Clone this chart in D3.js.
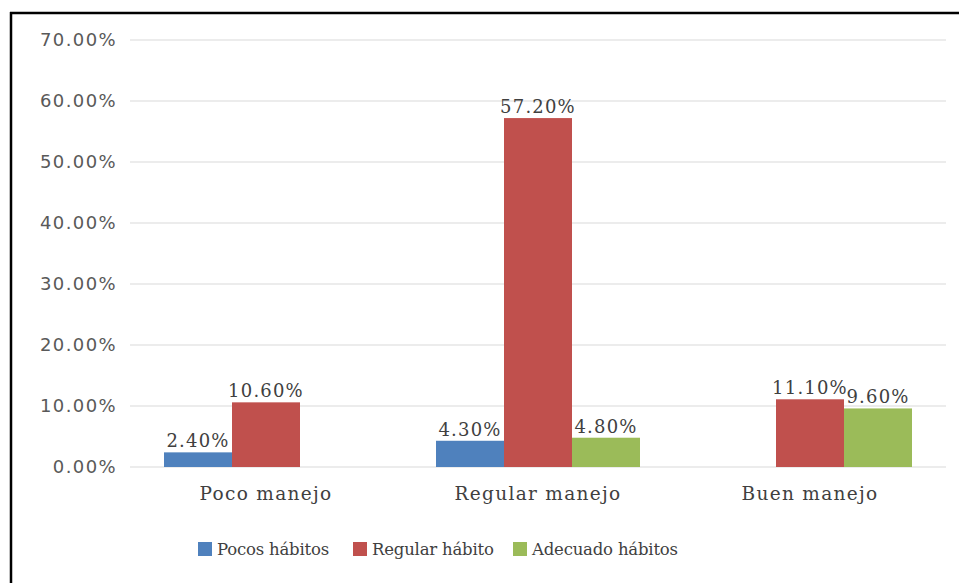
<!DOCTYPE html>
<html>
<head>
<meta charset="utf-8">
<script src="https://cdn.jsdelivr.net/npm/d3@7"></script>
<style>
  body { margin: 0; background: #fff; }
</style>
</head>
<body>
<div id="chart"></div>
<script>
// Data
var categories = ["Poco manejo", "Regular manejo", "Buen manejo"];
var seriesNames = ["Pocos hábitos", "Regular hábito", "Adecuado hábitos"];
var pocosHabitos = [2.4, 4.3, null];
var regularHabito = [10.6, 57.2, 11.1];
var adecuadoHabitos = [null, 4.8, 9.6];
var yTicks = [0, 10, 20, 30, 40, 50, 60, 70];

var seriesValues = [pocosHabitos, regularHabito, adecuadoHabitos];
var colors = ["#4F81BD", "#C0504D", "#9BBB59"];

var width = 959, height = 583;
var margin = { top: 40, right: 13, bottom: 116, left: 130 };
var plotW = width - margin.left - margin.right;
var plotH = height - margin.top - margin.bottom;

var svg = d3.select("#chart").append("svg")
    .attr("width", width)
    .attr("height", height);

// frame (top and left edges only visible)
svg.append("line").attr("x1", 10).attr("x2", width).attr("y1", 13).attr("y2", 13)
    .attr("stroke", "#000").attr("stroke-width", 2.5);
svg.append("line").attr("x1", 11).attr("x2", 11).attr("y1", 12).attr("y2", height)
    .attr("stroke", "#000").attr("stroke-width", 2.5);

var g = svg.append("g")
    .attr("transform", "translate(" + margin.left + "," + margin.top + ")");

var x0 = d3.scaleBand()
    .domain(categories)
    .range([0, plotW])
    .paddingInner(0)
    .paddingOuter(0);

var x1 = d3.scaleBand()
    .domain(seriesNames)
    .range([x0.bandwidth() * 0.125, x0.bandwidth() * 0.875]);

var y = d3.scaleLinear()
    .domain([0, 70])
    .range([plotH, 0]);

// gridlines
g.selectAll(".grid")
    .data(yTicks)
    .enter().append("line")
    .attr("class", "grid")
    .attr("x1", 0)
    .attr("x2", plotW)
    .attr("y1", d => y(d))
    .attr("y2", d => y(d))
    .attr("stroke", "#e6e6e6")
    .attr("stroke-width", 1.5);

// y axis labels
var yAxis = d3.axisLeft(y)
    .tickValues(yTicks)
    .tickSize(0)
    .tickPadding(13)
    .tickFormat(d => d.toFixed(2) + "%");

g.append("g")
    .attr("class", "y axis")
    .call(yAxis)
    .call(s => s.select(".domain").remove())
    .selectAll("text")
    .attr("fill", "#595959")
    .style("font-family", "'DejaVu Sans', sans-serif")
    .style("font-size", "18px")
    .style("letter-spacing", "1.4px");

// bars
var rows = [];
categories.forEach(function(c, i) {
    seriesNames.forEach(function(s, j) {
        var v = seriesValues[j][i];
        if (v !== null) rows.push({ cat: c, series: s, idx: j, value: v });
    });
});

var bar = g.selectAll(".bar")
    .data(rows)
    .enter().append("g")
    .attr("class", "bar")
    .attr("transform", d => "translate(" + (x0(d.cat) + x1(d.series)) + ",0)");

bar.append("rect")
    .attr("x", 0)
    .attr("width", x1.bandwidth())
    .attr("y", d => y(d.value))
    .attr("height", d => y(0) - y(d.value))
    .attr("fill", d => colors[d.idx]);

bar.append("text")
    .attr("x", x1.bandwidth() / 2)
    .attr("y", d => y(d.value) - 5)
    .attr("text-anchor", "middle")
    .attr("fill", "#404040")
    .style("font-family", "'DejaVu Serif', serif")
    .style("font-size", "18px")
    .style("letter-spacing", "1.2px")
    .text(d => d.value.toFixed(2) + "%");

// x axis labels
var xAxis = d3.axisBottom(x0)
    .tickSize(0)
    .tickPadding(20);

g.append("g")
    .attr("class", "x axis")
    .attr("transform", "translate(0," + plotH + ")")
    .call(xAxis)
    .call(s => s.select(".domain").remove())
    .selectAll("text")
    .attr("fill", "#404040")
    .style("font-family", "'DejaVu Serif', serif")
    .style("font-size", "18.5px")
    .style("letter-spacing", "1.3px");

// Legend
var legendX = [198, 353, 513];
var legend = svg.selectAll(".legend")
    .data(seriesNames)
    .enter().append("g")
    .attr("class", "legend")
    .attr("transform", (d, i) => "translate(" + legendX[i] + ",542)");

legend.append("rect")
    .attr("width", 14)
    .attr("height", 14)
    .attr("fill", (d, i) => colors[i]);

legend.append("text")
    .attr("x", 19)
    .attr("y", 7)
    .attr("dy", ".35em")
    .attr("fill", "#404040")
    .style("font-family", "'DejaVu Serif', serif")
    .style("font-size", "16.5px")
    .style("letter-spacing", "-0.2px")
    .text(d => d);
</script>
</body>
</html>
